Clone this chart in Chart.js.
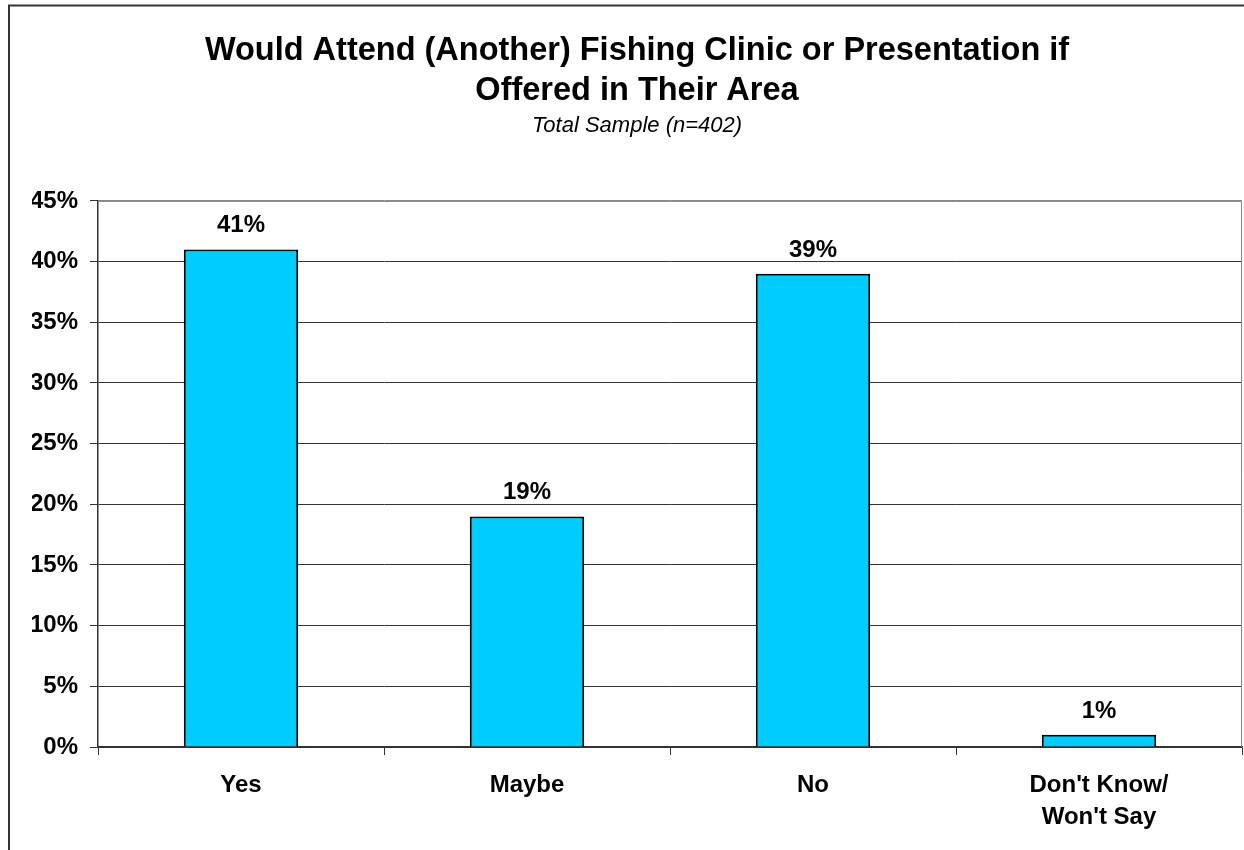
<!DOCTYPE html>
<html>
<head>
<meta charset="utf-8">
<script src="https://cdn.jsdelivr.net/npm/chart.js@4"></script>
<style>
  body { margin: 0; background: #fff; }
  #wrap { width: 1244px; height: 850px; position: relative; }
</style>
</head>
<body>
<div id="wrap"><canvas id="attendChart"></canvas></div>
<script>
const categories = [['Yes'], ['Maybe'], ['No'], ["Don't Know/", "Won't Say"]];
const percentValues = [41, 19, 39, 1];
const yMax = 45;
const yStep = 5;

const fontFamily = '"Liberation Sans", Arial, sans-serif';

// frame around the whole picture and grey top/right edge of the plot
const framePlugin = {
    id: 'frame',
    beforeDraw(chart) {
        const ctx = chart.ctx;
        ctx.save();
        ctx.strokeStyle = '#333';
        ctx.lineWidth = 2;
        ctx.strokeRect(9, 5.5, 1300, 900);
        ctx.restore();
    },
    afterDatasetsDraw(chart) {
        const a = chart.chartArea;
        const ctx = chart.ctx;
        ctx.save();
        ctx.strokeStyle = '#888';
        ctx.lineWidth = 1;
        ctx.beginPath();
        ctx.moveTo(a.left, a.top + 0.5);
        ctx.lineTo(a.right - 0.5, a.top + 0.5);
        ctx.lineTo(a.right - 0.5, a.bottom);
        ctx.stroke();
        ctx.restore();
    }
};

// value labels above the bars
const valueLabels = {
    id: 'valueLabels',
    afterDatasetsDraw(chart) {
        const ctx = chart.ctx;
        const meta = chart.getDatasetMeta(0);
        ctx.save();
        ctx.font = 'bold 24px ' + fontFamily;
        ctx.fillStyle = '#000';
        ctx.textAlign = 'center';
        ctx.textBaseline = 'alphabetic';
        meta.data.forEach((bar, i) => {
            ctx.fillText(percentValues[i] + '%', bar.x, bar.y - 17);
        });
        ctx.restore();
    }
};

new Chart(document.getElementById('attendChart'), {
    type: 'bar',
    data: {
        labels: categories,
        datasets: [{
            data: percentValues,
            backgroundColor: '#00CCFF',
            borderColor: '#000',
            borderWidth: 2,
            barPercentage: 0.4,
            categoryPercentage: 1
        }]
    },
    options: {
        responsive: true,
        maintainAspectRatio: false,
        animation: false,
        layout: {
            padding: { left: 32, right: 2, top: 0, bottom: 0 }
        },
        plugins: {
            legend: { display: false },
            tooltip: { enabled: false },
            title: {
                display: true,
                text: ['Would Attend (Another) Fishing Clinic or Presentation if', 'Offered in Their Area'],
                color: '#000',
                font: { family: fontFamily, size: 32.5, weight: 'bold', lineHeight: 1.23 },
                padding: { top: 31, bottom: 0 }
            },
            subtitle: {
                display: true,
                text: 'Total Sample (n=402)',
                color: '#000',
                font: { family: fontFamily, size: 22, style: 'italic', lineHeight: 1.2 },
                padding: { top: 2, bottom: 61.6 }
            }
        },
        scales: {
            x: {
                grid: {
                    offset: true,
                    drawOnChartArea: false,
                    drawTicks: true,
                    tickLength: 8,
                    color: '#333'
                },
                border: { color: '#333', width: 1.5 },
                ticks: {
                    color: '#000',
                    padding: 14,
                    maxRotation: 0,
                    autoSkip: false,
                    font: { family: fontFamily, size: 24, weight: 'bold', lineHeight: 1.333 }
                },
                afterFit(scale) { scale.height = 103; }
            },
            y: {
                min: 0,
                max: yMax,
                grid: {
                    color: ctx => (ctx.tick && ctx.tick.value === yMax) ? '#888' : '#333',
                    tickColor: '#333',
                    tickLength: 8,
                    lineWidth: 1
                },
                border: { color: '#333', width: 1.5 },
                ticks: {
                    stepSize: yStep,
                    color: '#000',
                    padding: 12,
                    font: { family: fontFamily, size: 24, weight: 'bold' },
                    callback: v => v + '%'
                },
                afterFit(scale) { scale.width = 66; }
            }
        }
    },
    plugins: [framePlugin, valueLabels]
});
</script>
</body>
</html>
